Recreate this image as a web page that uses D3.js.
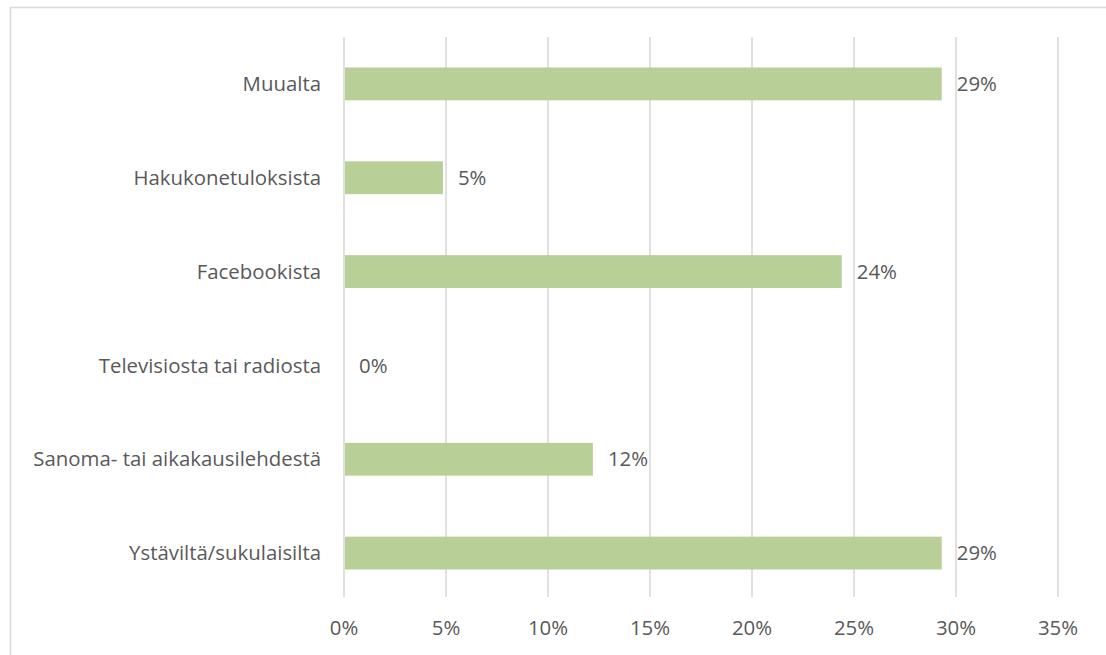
<!DOCTYPE html>
<html><head><meta charset="utf-8">
<script src="https://cdn.jsdelivr.net/npm/d3@7"></script>
<style>body{margin:0;background:#fff}svg{display:block}</style>
</head><body>
<svg id="c" width="1106" height="655"></svg>
<script>
const categories = ["Muualta","Hakukonetuloksista","Facebookista","Televisiosta tai radiosta","Sanoma- tai aikakausilehdestä","Ystäviltä/sukulaisilta"];
const values = [29.3, 4.85, 24.4, 0, 12.2, 29.3];
const valueLabels = ["29%","5%","24%","0%","12%","29%"];
const tickValues = [0,5,10,15,20,25,30,35];
const tickLabels = ["0%","5%","10%","15%","20%","25%","30%","35%"];

(function(){
const svg = d3.select("#c");
const font = "'Open Sans', sans-serif";
const textColor = "#595959";
const fs = 20.4;

svg.append("rect").attr("x",10.5).attr("y",7.5).attr("width",1100).attr("height",700)
  .attr("fill","none").attr("stroke","#d9d9d9").attr("stroke-width",1.5);

const pL = 344, pR = 1058, pT = 37, pB = 600;
const x = d3.scaleLinear().domain([0,35]).range([pL,pR]);
const y = d3.scaleBand().domain(categories).range([pT,pB]).paddingInner(0.65).paddingOuter(0.325);

svg.append("g").selectAll("line").data(tickValues).join("line")
  .attr("x1",d=>x(d)).attr("x2",d=>x(d)).attr("y1",pT).attr("y2",597)
  .attr("stroke","#d9d9d9").attr("stroke-width",1.6);

svg.append("g").selectAll("rect").data(values).join("rect")
  .attr("x",x(0)+1).attr("y",(d,i)=>y(categories[i]))
  .attr("width",d=>Math.max(0,x(d)-x(0)-1)).attr("height",y.bandwidth())
  .attr("fill","#b9cf98");

svg.append("g").selectAll("text").data(values).join("text")
  .attr("x",d=>x(d)+15).attr("y",(d,i)=>y(categories[i])+y.bandwidth()/2)
  .attr("dy","0.35em").attr("font-family",font).attr("font-size",fs).attr("fill",textColor)
  .text((d,i)=>valueLabels[i]);

svg.append("g").selectAll("text").data(categories).join("text")
  .attr("x",321).attr("y",d=>y(d)+y.bandwidth()/2).attr("dy","0.35em")
  .attr("text-anchor","end").attr("font-family",font).attr("font-size",fs).attr("fill",textColor)
  .text(d=>d);

svg.append("g").selectAll("text").data(tickValues).join("text")
  .attr("x",d=>x(d)).attr("y",628).attr("dy","0.35em").attr("text-anchor","middle")
  .attr("font-family",font).attr("font-size",fs).attr("fill",textColor)
  .text((d,i)=>tickLabels[i]);
})();
</script>
</body></html>
